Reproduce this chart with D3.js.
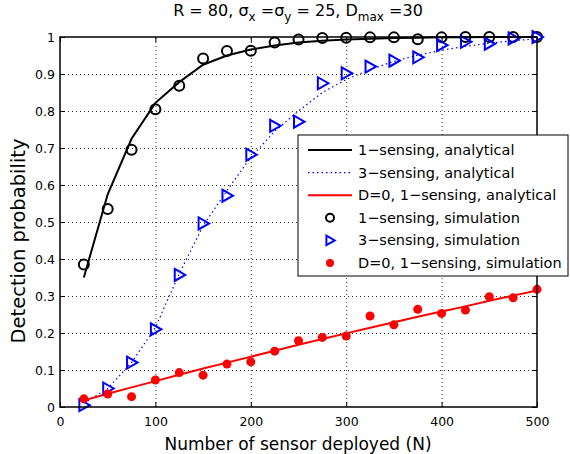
<!DOCTYPE html>
<html>
<head>
<meta charset="utf-8">
<script src="https://cdn.jsdelivr.net/npm/d3@7"></script>
<style>
body { margin: 0; background: #fff; }
svg { display: block; font-family: "DejaVu Sans", sans-serif; }
</style>
</head>
<body>
<div class="canvas"></div>
<script>
// sensors deployed
const nValues = [25, 50, 75, 100, 125, 150, 175, 200, 225, 250, 275, 300, 325, 350, 375, 400, 425, 450, 475, 500]

// analytical curves
const oneAnalytical = [0.35, 0.575, 0.725, 0.822, 0.878, 0.925, 0.95, 0.966, 0.977, 0.985, 0.99, 0.993, 0.995, 0.997, 0.998, 0.999, 0.999, 1.0, 1.0, 1.0]
const threeAnalytical = [0.01, 0.05, 0.12, 0.215, 0.36, 0.49, 0.585, 0.675, 0.745, 0.8, 0.85, 0.885, 0.912, 0.934, 0.951, 0.964, 0.975, 0.983, 0.99, 0.995]
const zeroAnalytical = [0.018, 0.036, 0.053, 0.07, 0.087, 0.104, 0.12, 0.136, 0.152, 0.168, 0.184, 0.199, 0.214, 0.229, 0.244, 0.258, 0.272, 0.287, 0.301, 0.315]

// simulation points
const oneSim = [0.385, 0.535, 0.695, 0.805, 0.868, 0.942, 0.962, 0.963, 0.985, 0.993, 0.997, 0.998, 0.999, 0.999, 0.994, 0.999, 1.0, 1.0, 1.0, 1.0]
const threeSim = [0.005, 0.05, 0.12, 0.21, 0.357, 0.496, 0.571, 0.682, 0.76, 0.771, 0.875, 0.902, 0.92, 0.936, 0.945, 0.978, 0.987, 0.982, 0.996, 1.0]
const zeroSim = [0.022, 0.035, 0.028, 0.073, 0.093, 0.086, 0.116, 0.122, 0.151, 0.179, 0.188, 0.192, 0.246, 0.222, 0.264, 0.253, 0.262, 0.298, 0.295, 0.318]

const xTicks = [0, 100, 200, 300, 400, 500]
const yTicks = [0, 0.1, 0.2, 0.3, 0.4, 0.5, 0.6, 0.7, 0.8, 0.9, 1]

const legendLabels = [
    '1\u2212sensing, analytical',
    '3\u2212sensing, analytical',
    'D=0, 1\u2212sensing, analytical',
    '1\u2212sensing, simulation',
    '3\u2212sensing, simulation',
    'D=0, 1\u2212sensing, simulation'
]

const svg = d3.select('.canvas').append('svg').attr('width', 570).attr('height', 454)

const margins = { top: 37, right: 33, bottom: 47, left: 60 }
const gWidth = 570 - margins.left - margins.right
const gHeight = 454 - margins.top - margins.bottom

const graph = svg.append('g').attr('transform', `translate(${margins.left}, ${margins.top})`)

const x = d3.scaleLinear().domain([0, 500]).range([0, gWidth])
const y = d3.scaleLinear().domain([0, 1]).range([gHeight, 0])

// grid
const gridX = graph.append('g').attr('transform', `translate(0, ${gHeight})`)
    .call(d3.axisBottom(x).tickValues(xTicks.slice(1, -1)).tickSize(-gHeight).tickFormat(''))
const gridY = graph.append('g')
    .call(d3.axisLeft(y).tickValues(yTicks.slice(1, -1)).tickSize(-gWidth).tickFormat(''))
graph.selectAll('.domain').remove()
gridX.selectAll('line').attr('stroke', '#333').attr('stroke-width', 1).attr('stroke-dasharray', '1,3')
gridY.selectAll('line').attr('stroke', '#333').attr('stroke-width', 1).attr('stroke-dasharray', '1,3')

// curves
const line = d3.line().x(d => x(d[0])).y(d => y(d[1]))
const pairs = vals => nValues.map((n, i) => [n, vals[i]])

graph.append('path').datum(pairs(threeAnalytical)).attr('d', line)
    .attr('fill', 'none').attr('stroke', '#0000ff').attr('stroke-width', 1.2).attr('stroke-dasharray', '1.5,3')
graph.append('path').datum(pairs(zeroAnalytical)).attr('d', line)
    .attr('fill', 'none').attr('stroke', '#ff0000').attr('stroke-width', 2)
graph.append('path').datum(pairs(oneAnalytical)).attr('d', line)
    .attr('fill', 'none').attr('stroke', '#000').attr('stroke-width', 2)

const triPath = 'M-4.5,-6L6,0L-4.5,6Z'

graph.selectAll('.sim1').data(pairs(oneSim)).enter().append('circle')
    .attr('cx', d => x(d[0])).attr('cy', d => y(d[1])).attr('r', 5)
    .attr('fill', 'none').attr('stroke', '#000').attr('stroke-width', 2)
graph.selectAll('.sim3').data(pairs(threeSim)).enter().append('path')
    .attr('d', triPath).attr('transform', d => `translate(${x(d[0])}, ${y(d[1])})`)
    .attr('fill', 'none').attr('stroke', '#0000ff').attr('stroke-width', 2)
graph.selectAll('.sim0').data(pairs(zeroSim)).enter().append('circle')
    .attr('cx', d => x(d[0])).attr('cy', d => y(d[1])).attr('r', 4.5)
    .attr('fill', '#ff0000')

// axes, ticks inward, box on
const xAxis = d3.axisBottom(x).tickValues(xTicks).tickSizeInner(-5).tickSizeOuter(0).tickPadding(10)
const yAxis = d3.axisLeft(y).tickValues(yTicks).tickSizeInner(-5).tickSizeOuter(0).tickPadding(5).tickFormat(d => d)
const xAxisGroup = graph.append('g').attr('transform', `translate(0, ${gHeight})`).call(xAxis)
const yAxisGroup = graph.append('g').call(yAxis)
graph.append('g').call(d3.axisTop(x).tickValues(xTicks).tickSizeInner(-5).tickSizeOuter(0).tickFormat(''))
graph.append('g').attr('transform', `translate(${gWidth}, 0)`)
    .call(d3.axisRight(y).tickValues(yTicks).tickSizeInner(-5).tickSizeOuter(0).tickFormat(''))
graph.selectAll('.tick text').attr('font-size', 12.5).attr('fill', '#000').attr('font-family', '"DejaVu Sans", sans-serif')
graph.selectAll('.domain').remove()
graph.append('rect').attr('width', gWidth).attr('height', gHeight)
    .attr('fill', 'none').attr('stroke', '#000').attr('stroke-width', 1.5)

// labels
svg.append('text').attr('x', 298).attr('y', 450).attr('text-anchor', 'middle')
    .attr('font-size', 17).text('Number of sensor deployed (N)')
svg.append('text').attr('transform', 'translate(25, 241) rotate(-90)').attr('text-anchor', 'middle')
    .attr('font-size', 19.5).text('Detection probability')

const title = svg.append('text').attr('x', 298).attr('y', 16).attr('text-anchor', 'middle').attr('font-size', 16)
title.append('tspan').text('R = 80, \u03c3')
title.append('tspan').attr('font-size', 12).attr('dy', 5).text('x')
title.append('tspan').attr('dy', -5).text(' =\u03c3')
title.append('tspan').attr('font-size', 12).attr('dy', 5).text('y')
title.append('tspan').attr('dy', -5).text(' = 25, D')
title.append('tspan').attr('font-size', 12).attr('dy', 5).text('max')
title.append('tspan').attr('dy', -5).text(' =30')

// legend
const legend = svg.append('g').attr('transform', 'translate(298, 135)')
legend.append('rect').attr('width', 270).attr('height', 141).attr('fill', '#fff').attr('stroke', '#000').attr('stroke-width', 1)
const rowY = i => 15 + i * 22.6
legend.selectAll('.ltext').data(legendLabels).enter().append('text')
    .attr('x', 60).attr('y', (d, i) => rowY(i) + 5).attr('font-size', 14.5).text(d => d)
legend.append('line').attr('x1', 10).attr('x2', 54).attr('y1', rowY(0)).attr('y2', rowY(0))
    .attr('stroke', '#000').attr('stroke-width', 2)
legend.append('line').attr('x1', 10).attr('x2', 54).attr('y1', rowY(1)).attr('y2', rowY(1))
    .attr('stroke', '#0000ff').attr('stroke-width', 1.2).attr('stroke-dasharray', '1.5,3')
legend.append('line').attr('x1', 10).attr('x2', 54).attr('y1', rowY(2)).attr('y2', rowY(2))
    .attr('stroke', '#ff0000').attr('stroke-width', 2)
legend.append('circle').attr('cx', 32).attr('cy', rowY(3)).attr('r', 4)
    .attr('fill', 'none').attr('stroke', '#000').attr('stroke-width', 2)
legend.append('path').attr('d', triPath).attr('transform', `translate(32, ${rowY(4)}) scale(0.8)`)
    .attr('fill', 'none').attr('stroke', '#0000ff').attr('stroke-width', 2.4)
legend.append('circle').attr('cx', 32).attr('cy', rowY(5)).attr('r', 4).attr('fill', '#ff0000')
</script>
</body>
</html>
